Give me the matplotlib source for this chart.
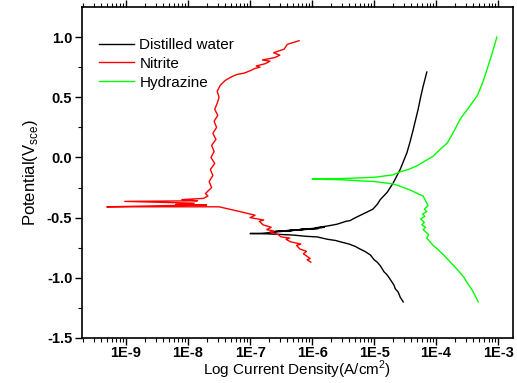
import matplotlib
matplotlib.use("Agg")
import matplotlib.pyplot as plt
import numpy as np
from matplotlib.ticker import FixedLocator, LogLocator, NullFormatter

plt.rcParams['font.family'] = ['Liberation Sans', 'DejaVu Sans']

# log10(current density) and potential (V vs SCE)
water_logi = [-4.53, -4.58, -4.61, -4.66, -4.68, -4.77, -4.80, -4.84, -4.90, -4.95,
              -5.00, -5.06, -5.15, -5.23, -5.30, -5.40, -5.55, -5.62, -5.75, -5.92,
              -6.10, -6.30, -6.70, -7.00, -6.80, -6.30, -6.60, -6.10, -6.40, -5.90,
              -6.20, -5.80, -5.95, -5.76, -5.60, -5.45, -5.39, -5.30, -5.18, -5.10,
              -5.02, -4.95, -4.90, -4.79, -4.74, -4.69, -4.58, -4.47, -4.42, -4.37,
              -4.29, -4.25, -4.21, -4.18, -4.15]
water_e = [-1.20, -1.16, -1.12, -1.09, -1.06, -0.99, -0.97, -0.95, -0.90, -0.87,
           -0.85, -0.81, -0.78, -0.76, -0.74, -0.72, -0.70, -0.69, -0.68, -0.66,
           -0.655, -0.645, -0.635, -0.632, -0.63, -0.605, -0.615, -0.595, -0.61, -0.59,
           -0.60, -0.58, -0.585, -0.57, -0.555, -0.53, -0.525, -0.50, -0.47, -0.45,
           -0.43, -0.39, -0.35, -0.29, -0.25, -0.21, -0.10, 0.04, 0.13, 0.23,
           0.40, 0.50, 0.59, 0.65, 0.71]

nitrite_logi = [-6.02, -6.08, -6.03, -6.14, -6.09, -6.20, -6.25, -6.18, -6.35, -6.42,
                -6.36, -6.50, -6.55, -6.68, -6.62, -6.73, -6.66, -6.79, -6.85, -6.78,
                -7.00, -6.92, -7.16, -7.50, -9.31, -8.30, -7.70, -8.20, -7.90, -9.02,
                -7.85, -8.10, -7.75, -7.68, -7.72, -7.62, -7.66, -7.60, -7.64, -7.57,
                -7.63, -7.58, -7.62, -7.55, -7.60, -7.54, -7.58, -7.52, -7.57, -7.53,
                -7.50, -7.53, -7.48, -7.40, -7.30, -7.21, -7.10, -7.00, -6.92, -6.84,
                -6.90, -6.75, -6.68, -6.80, -6.60, -6.52, -6.62, -6.45, -6.40, -6.21]
nitrite_e = [-0.87, -0.85, -0.84, -0.80, -0.78, -0.76, -0.73, -0.72, -0.70, -0.68,
             -0.67, -0.66, -0.64, -0.62, -0.61, -0.60, -0.58, -0.56, -0.53, -0.52,
             -0.50, -0.48, -0.45, -0.41, -0.41, -0.40, -0.395, -0.39, -0.38, -0.365,
             -0.36, -0.35, -0.34, -0.32, -0.30, -0.25, -0.20, -0.15, -0.10, -0.05,
             0.00, 0.05, 0.10, 0.15, 0.20, 0.25, 0.30, 0.35, 0.40, 0.45,
             0.50, 0.55, 0.60, 0.64, 0.67, 0.69, 0.70, 0.72, 0.74, 0.75,
             0.76, 0.78, 0.80, 0.81, 0.83, 0.85, 0.87, 0.90, 0.94, 0.97]

hydrazine_logi = [-3.32, -3.37, -3.42, -3.50, -3.56, -3.66, -3.77, -3.88, -3.98, -4.05,
                  -4.10, -4.15, -4.12, -4.21, -4.17, -4.23, -4.19, -4.25, -4.18, -4.22,
                  -4.15, -4.19, -4.13, -4.16, -4.21, -4.30, -4.42, -4.55, -4.69, -5.00,
                  -5.20, -5.55, -6.00, -5.50, -5.00, -4.85, -4.70, -4.58, -4.45, -4.31,
                  -4.18, -4.05, -3.95, -3.82, -3.72, -3.61, -3.48, -3.34, -3.25, -3.18,
                  -3.10, -3.02]
hydrazine_e = [-1.20, -1.15, -1.10, -1.04, -0.99, -0.93, -0.87, -0.81, -0.76, -0.73,
               -0.70, -0.67, -0.64, -0.60, -0.58, -0.56, -0.54, -0.51, -0.49, -0.47,
               -0.45, -0.43, -0.40, -0.37, -0.32, -0.30, -0.27, -0.245, -0.22, -0.20,
               -0.195, -0.185, -0.18, -0.175, -0.165, -0.155, -0.145, -0.12, -0.10, -0.07,
               -0.03, 0.01, 0.06, 0.12, 0.21, 0.32, 0.41, 0.51, 0.62, 0.73,
               0.86, 1.00]

fig = plt.figure(figsize=(5.17, 3.83), dpi=100)
ax = fig.add_axes([0.1586, 0.1175, 0.8337, 0.8642])

ax.plot(10 ** np.array(water_logi), water_e, color='black', lw=1.0, label='Distilled water')
ax.plot(10 ** np.array(nitrite_logi), nitrite_e, color='#ff0000', lw=1.0, label='Nitrite')
ax.plot(10 ** np.array(hydrazine_logi), hydrazine_e, color='#00ff00', lw=1.0, label='Hydrazine')

ax.set_xscale('log')
ax.set_xlim(10 ** -9.71, 10 ** -2.76)
ax.set_ylim(-1.5, 1.25)

ax.xaxis.set_major_locator(LogLocator(base=10, numticks=20))
ax.xaxis.set_minor_locator(LogLocator(base=10, subs=np.arange(2, 10), numticks=20))
ax.xaxis.set_minor_formatter(NullFormatter())
ax.set_xticks([1e-9, 1e-8, 1e-7, 1e-6, 1e-5, 1e-4, 1e-3])
ax.set_xticklabels(['1E-9', '1E-8', '1E-7', '1E-6', '1E-5', '1E-4', '1E-3'])
ax.set_yticks([-1.5, -1.0, -0.5, 0.0, 0.5, 1.0])
ax.set_yticklabels(['-1.5', '-1.0', '-0.5', '0.0', '0.5', '1.0'])
ax.yaxis.set_minor_locator(FixedLocator([-1.25, -0.75, -0.25, 0.25, 0.75]))

for lab in ax.get_xticklabels() + ax.get_yticklabels():
    lab.set_fontweight('bold')
ax.tick_params(axis='both', which='major', direction='out', length=5, width=1,
               labelsize=10.5, pad=2)
ax.tick_params(axis='both', which='minor', direction='out', length=3, width=0.8)
ax.tick_params(axis='x', which='both', top=True)
ax.tick_params(axis='x', which='major', pad=0.5)

for s in ax.spines.values():
    s.set_linewidth(1.2)

ax.set_xlabel('Log Current Density(A/cm$^{\\mathregular{2}}$)', fontsize=11, labelpad=-1)
ax.set_ylabel('Potential(V$_{\\mathregular{sce}}$)', fontsize=12, labelpad=5)

ax.legend(loc='upper left', frameon=False, fontsize=11, handlelength=2.3,
          handletextpad=0.35, labelspacing=0.32, borderaxespad=0,
          bbox_to_anchor=(0.025, 0.925))

fig.savefig('out.png', dpi=100)
